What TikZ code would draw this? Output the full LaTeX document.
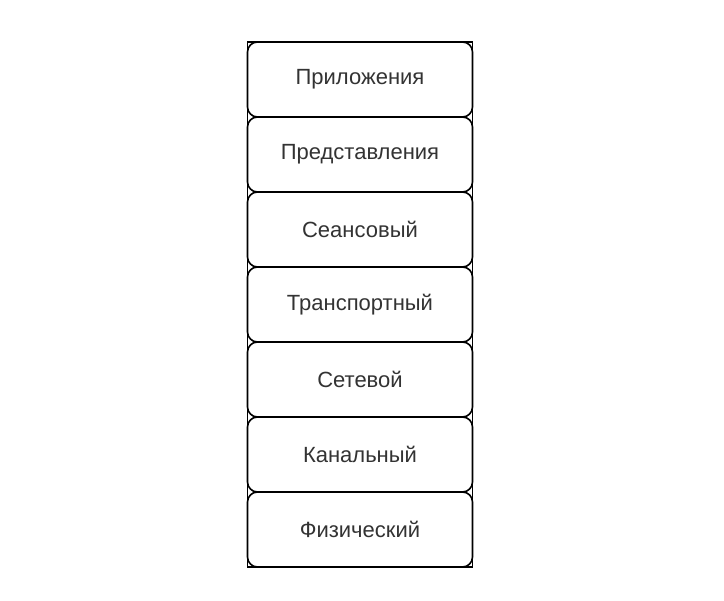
\documentclass[tikz,border=0pt]{standalone}
\usepackage{fontspec}
\setmainfont{Liberation Sans}
\usetikzlibrary{positioning}

\tikzset{
	layer/.style={draw, line width=1.6pt, rounded corners=10pt, fill=white,
		minimum width=225pt, minimum height=75pt, inner sep=0pt, outer sep=0pt,
		text=black!80, font=\fontsize{22}{26}\selectfont},
}

\begin{document}
\begin{tikzpicture}[x=1pt,y=1pt]
		%\draw [help lines] (0,0) grid (724,-601);
		\useasboundingbox (0,0) rectangle (724,-601);
		
		%LIVELLI
		\node[layer] (app) at (360,-79.5) {Приложения};
		\node[layer, below=0pt of app] (pres) {Представления};
		\node[layer, below=0pt of pres] (sess) {Сеансовый};
		\node[layer, below=0pt of sess] (trans) {Транспортный};
		\node[layer, below=0pt of trans] (net) {Сетевой};
		\node[layer, below=0pt of net] (link) {Канальный};
		\node[layer, below=0pt of link] (phys) {Физический};
		
		%cornice
		\draw [line width=1.6pt] (app.north west) rectangle (phys.south east);
		
	\end{tikzpicture}
\end{document}
